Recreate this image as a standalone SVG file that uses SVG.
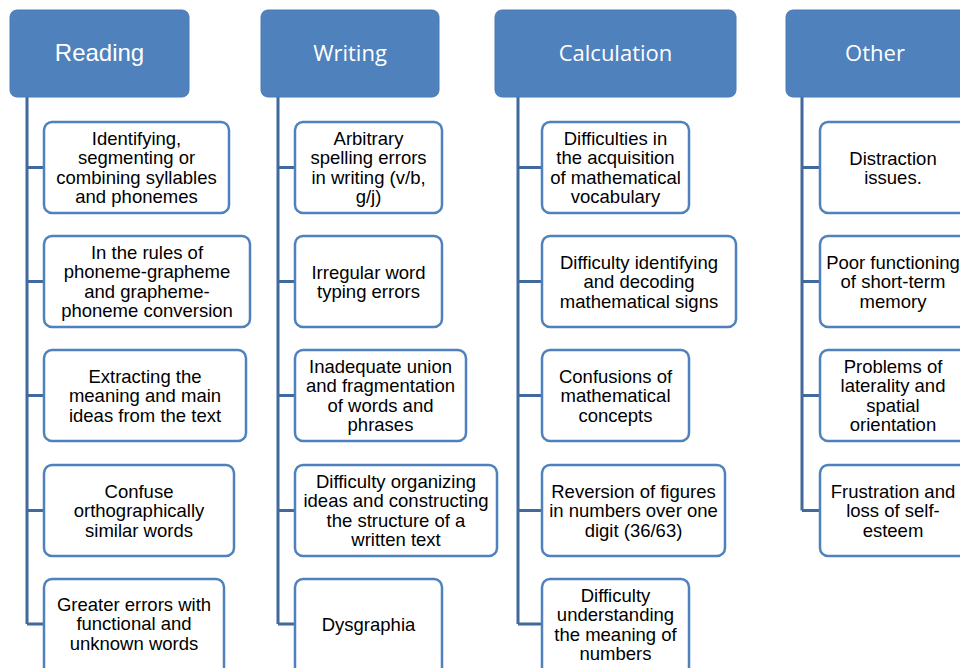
<svg xmlns="http://www.w3.org/2000/svg" width="960" height="668" viewBox="0 0 960 668">
<style>
.hdr{fill:#4f81bd;stroke:#4a7ab5;stroke-width:1}
.ht{font-family:"Open Sans","Liberation Sans",sans-serif;font-size:22px;fill:#ffffff;text-anchor:middle}
.ht2{font-family:"Liberation Sans",Arial,sans-serif;font-size:24px;fill:#ffffff;text-anchor:middle}
.box{fill:#ffffff;stroke:#4f81bd;stroke-width:2.5}
.t{font-family:"Liberation Sans",Arial,sans-serif;font-size:18.5px;fill:#000000;text-anchor:middle}
.con{fill:none;stroke:#41699c;stroke-width:3}
</style>
<rect width="960" height="668" fill="#ffffff"/>
<g id="connectors">
<path class="con" d="M27 97V624M27 167.5H44M27 281.5H44M27 395.5H44M27 510.5H44M27 624H44"/>
<path class="con" d="M278 97V624M278 167.5H295M278 281.5H295M278 395.5H295M278 510.5H295M278 624H295"/>
<path class="con" d="M518 97V624M518 167.5H542M518 281.5H542M518 395.5H542M518 510.5H542M518 624H542"/>
<path class="con" d="M802 97V510.5M802 167.5H820M802 281.5H820M802 395.5H820M802 510.5H820"/>
</g>
<g id="h-reading"><rect class="hdr" x="10" y="10" width="179" height="87" rx="7"/><text class="ht2" x="99.5" y="61">Reading</text></g>
<g id="h-writing"><rect class="hdr" x="261" y="10" width="178" height="87" rx="7"/><text class="ht" x="350" y="61">Writing</text></g>
<g id="h-calculation"><rect class="hdr" x="495" y="10" width="241" height="87" rx="7"/><text class="ht" x="615.5" y="61">Calculation</text></g>
<g id="h-other"><rect class="hdr" x="786" y="10" width="190" height="87" rx="7"/><text class="ht" x="875" y="61">Other</text></g>

<g id="r1"><rect class="box" x="44" y="122" width="185" height="91" rx="8"/><text class="t" x="136.5" y="144.5">Identifying,<tspan x="136.5" dy="19.5">segmenting or</tspan><tspan x="136.5" dy="19.5">combining syllables</tspan><tspan x="136.5" dy="19.5">and phonemes</tspan></text></g>
<g id="r2"><rect class="box" x="44" y="236" width="206" height="91" rx="8"/><text class="t" x="147" y="258.5">In the rules of<tspan x="147" dy="19.5">phoneme-grapheme</tspan><tspan x="147" dy="19.5">and grapheme-</tspan><tspan x="147" dy="19.5">phoneme conversion</tspan></text></g>
<g id="r3"><rect class="box" x="44" y="350" width="202" height="91" rx="8"/><text class="t" x="145" y="382.5">Extracting the<tspan x="145" dy="19.5">meaning and main</tspan><tspan x="145" dy="19.5">ideas from the text</tspan></text></g>
<g id="r4"><rect class="box" x="44" y="465" width="190" height="91" rx="8"/><text class="t" x="139" y="497.5">Confuse<tspan x="139" dy="19.5">orthographically</tspan><tspan x="139" dy="19.5">similar words</tspan></text></g>
<g id="r5"><rect class="box" x="44" y="579" width="180" height="100" rx="8"/><text class="t" x="134" y="610.5">Greater errors with<tspan x="134" dy="19.5">functional and</tspan><tspan x="134" dy="19.5">unknown words</tspan></text></g>

<g id="w1"><rect class="box" x="295" y="122" width="147" height="91" rx="8"/><text class="t" x="368.5" y="144.5">Arbitrary<tspan x="368.5" dy="19.5">spelling errors</tspan><tspan x="368.5" dy="19.5">in writing (v/b,</tspan><tspan x="368.5" dy="19.5">g/j)</tspan></text></g>
<g id="w2"><rect class="box" x="295" y="236" width="147" height="91" rx="8"/><text class="t" x="368.5" y="278.5">Irregular word<tspan x="368.5" dy="19.5">typing errors</tspan></text></g>
<g id="w3"><rect class="box" x="295" y="350" width="171" height="91" rx="8"/><text class="t" x="380.5" y="372.5">Inadequate union<tspan x="380.5" dy="19.5">and fragmentation</tspan><tspan x="380.5" dy="19.5">of words and</tspan><tspan x="380.5" dy="19.5">phrases</tspan></text></g>
<g id="w4"><rect class="box" x="295" y="465" width="202" height="91" rx="8"/><text class="t" x="396" y="487.5">Difficulty organizing<tspan x="396" dy="19.5">ideas and constructing</tspan><tspan x="396" dy="19.5">the structure of a</tspan><tspan x="396" dy="19.5">written text</tspan></text></g>
<g id="w5"><rect class="box" x="295" y="579" width="147" height="100" rx="8"/><text class="t" x="368.5" y="630.5">Dysgraphia</text></g>

<g id="c1"><rect class="box" x="542" y="122" width="147" height="91" rx="8"/><text class="t" x="615.5" y="144.5">Difficulties in<tspan x="615.5" dy="19.5">the acquisition</tspan><tspan x="615.5" dy="19.5">of mathematical</tspan><tspan x="615.5" dy="19.5">vocabulary</tspan></text></g>
<g id="c2"><rect class="box" x="542" y="236" width="194" height="91" rx="8"/><text class="t" x="639" y="268.5">Difficulty identifying<tspan x="639" dy="19.5">and decoding</tspan><tspan x="639" dy="19.5">mathematical signs</tspan></text></g>
<g id="c3"><rect class="box" x="542" y="350" width="147" height="91" rx="8"/><text class="t" x="615.5" y="382.5">Confusions of<tspan x="615.5" dy="19.5">mathematical</tspan><tspan x="615.5" dy="19.5">concepts</tspan></text></g>
<g id="c4"><rect class="box" x="542" y="465" width="183" height="91" rx="8"/><text class="t" x="633.5" y="497.5">Reversion of figures<tspan x="633.5" dy="19.5">in numbers over one</tspan><tspan x="633.5" dy="19.5">digit (36/63)</tspan></text></g>
<g id="c5"><rect class="box" x="542" y="579" width="147" height="100" rx="8"/><text class="t" x="615.5" y="601.5">Difficulty<tspan x="615.5" dy="19.5">understanding</tspan><tspan x="615.5" dy="19.5">the meaning of</tspan><tspan x="615.5" dy="19.5">numbers</tspan></text></g>

<g id="o1"><rect class="box" x="820" y="122" width="150" height="91" rx="8"/><text class="t" x="893" y="164.5">Distraction<tspan x="893" dy="19.5">issues.</tspan></text></g>
<g id="o2"><rect class="box" x="820" y="236" width="150" height="91" rx="8"/><text class="t" x="893" y="268.5">Poor functioning<tspan x="893" dy="19.5">of short-term</tspan><tspan x="893" dy="19.5">memory</tspan></text></g>
<g id="o3"><rect class="box" x="820" y="350" width="150" height="91" rx="8"/><text class="t" x="893" y="372.5">Problems of<tspan x="893" dy="19.5">laterality and</tspan><tspan x="893" dy="19.5">spatial</tspan><tspan x="893" dy="19.5">orientation</tspan></text></g>
<g id="o4"><rect class="box" x="820" y="465" width="150" height="91" rx="8"/><text class="t" x="893" y="497.5">Frustration and<tspan x="893" dy="19.5">loss of self-</tspan><tspan x="893" dy="19.5">esteem</tspan></text></g>
</svg>
